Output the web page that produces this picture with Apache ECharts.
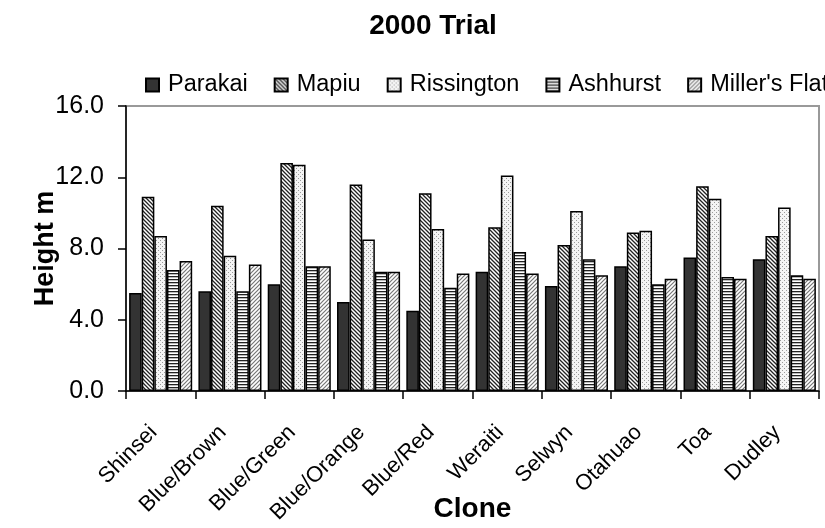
<!DOCTYPE html>
<html>
<head>
<meta charset="utf-8">
<style>
  html, body { margin: 0; padding: 0; background: #fff; }
  #chart { width: 825px; height: 528px; }
</style>
<script src="https://cdn.jsdelivr.net/npm/echarts@6/dist/echarts.min.js"></script>
</head>
<body>
<div id="chart"></div>
<script>
const categories = ['Shinsei', 'Blue/Brown', 'Blue/Green', 'Blue/Orange', 'Blue/Red', 'Weraiti', 'Selwyn', 'Otahuao', 'Toa', 'Dudley'];
const seriesNames = ['Parakai', 'Mapiu', 'Rissington', 'Ashhurst', "Miller's Flat"];
const parakai = [5.5, 5.6, 6.0, 5.0, 4.5, 6.7, 5.9, 7.0, 7.5, 7.4];
const mapiu = [10.9, 10.4, 12.8, 11.6, 11.1, 9.2, 8.2, 8.9, 11.5, 8.7];
const rissington = [8.7, 7.6, 12.7, 8.5, 9.1, 12.1, 10.1, 9.0, 10.8, 10.3];
const ashhurst = [6.8, 5.6, 7.0, 6.7, 5.8, 7.8, 7.4, 6.0, 6.4, 6.5];
const millersFlat = [7.3, 7.1, 7.0, 6.7, 6.6, 6.6, 6.5, 6.3, 6.3, 6.3];
const yTicks = { min: 0, max: 16, interval: 4 };

const FONT = 'Liberation Sans, Arial, sans-serif';

// Small tiles used as repeating fill patterns for the bars
function tile(size, draw) {
  const c = document.createElement('canvas');
  c.width = size; c.height = size;
  const g = c.getContext('2d');
  g.fillStyle = '#fff';
  g.fillRect(0, 0, size, size);
  draw(g, size);
  return { image: c, repeat: 'repeat' };
}
const backHatch = tile(4, (g, s) => {
  g.strokeStyle = '#222'; g.lineWidth = 1.3;
  g.beginPath();
  g.moveTo(-1, -1); g.lineTo(s + 1, s + 1);
  g.moveTo(-1, s - 1); g.lineTo(1, s + 1);
  g.moveTo(s - 1, -1); g.lineTo(s + 1, 1);
  g.stroke();
});
const dots = tile(4, (g) => {
  g.fillStyle = '#f4f4f4'; g.fillRect(0, 0, 4, 4);
  g.fillStyle = '#9a9a9a';
  g.fillRect(0, 0, 1, 1);
  g.fillRect(2, 2, 1, 1);
});
const horizLines = tile(3, (g, s) => {
  g.fillStyle = '#222';
  g.fillRect(0, 0, s, 1.3);
});
const fwdHatch = tile(4, (g, s) => {
  g.strokeStyle = '#777'; g.lineWidth = 1.2;
  g.beginPath();
  g.moveTo(-1, s + 1); g.lineTo(s + 1, -1);
  g.moveTo(-1, 1); g.lineTo(1, -1);
  g.moveTo(s - 1, s + 1); g.lineTo(s + 1, s - 1);
  g.stroke();
});

const fills = ['#333333', backHatch, dots, horizLines, fwdHatch];
const values = [parakai, mapiu, rissington, ashhurst, millersFlat];

const chart = echarts.init(document.getElementById('chart'), null, { renderer: 'canvas' });
chart.setOption({
  animation: false,
  backgroundColor: '#fff',
  textStyle: { fontFamily: FONT, color: '#000' },
  title: {
    text: '2000 Trial',
    left: 428, top: 7, textAlign: 'center',
    textStyle: { fontSize: 28, fontWeight: 'bold', color: '#000', fontFamily: FONT }
  },
  legend: {
    left: 140, top: 68, width: 1000,
    itemWidth: 13, itemHeight: 13, itemGap: 26,
    textStyle: { fontSize: 23.5, color: '#000', fontFamily: FONT, padding: [0, 0, 0, 4] },
    data: seriesNames.map(n => ({ name: n, icon: 'rect' }))
  },
  grid: {
    left: 126, right: 6, top: 106, bottom: 137,
    outerBoundsMode: 'none',
    show: true, borderColor: '#999', borderWidth: 2, backgroundColor: 'transparent'
  },
  xAxis: {
    type: 'category',
    data: categories,
    name: 'Clone', nameLocation: 'middle', nameGap: 104, nameMoveOverlap: false,
    nameTextStyle: { fontSize: 28, fontWeight: 'bold', color: '#000', fontFamily: FONT },
    axisLine: { lineStyle: { color: '#000', width: 1.5 } },
    axisTick: { show: true, length: 8, lineStyle: { color: '#000', width: 1.5 } },
    axisLabel: { rotate: 45, fontSize: 22, color: '#000', margin: 31, interval: 0, fontFamily: FONT, padding: [0, 10, 0, 0] }
  },
  yAxis: {
    type: 'value',
    min: yTicks.min, max: yTicks.max, interval: yTicks.interval,
    name: 'Height m', nameLocation: 'middle', nameGap: 67, nameMoveOverlap: false,
    nameTextStyle: { fontSize: 27, fontWeight: 'bold', color: '#000', fontFamily: FONT },
    axisLine: { show: true, lineStyle: { color: '#000', width: 1.5 } },
    axisTick: { show: true, length: 8, lineStyle: { color: '#000', width: 1.5 } },
    splitLine: { show: false },
    axisLabel: { fontSize: 25, color: '#000', margin: 22, fontFamily: FONT, formatter: v => v.toFixed(1) }
  },
  series: seriesNames.map((name, i) => ({
    name,
    type: 'bar',
    data: values[i],
    barGap: '0%',
    barCategoryGap: '9%',
    itemStyle: { color: fills[i], borderColor: '#000', borderWidth: 1.5 }
  }))
});
</script>
</body>
</html>
